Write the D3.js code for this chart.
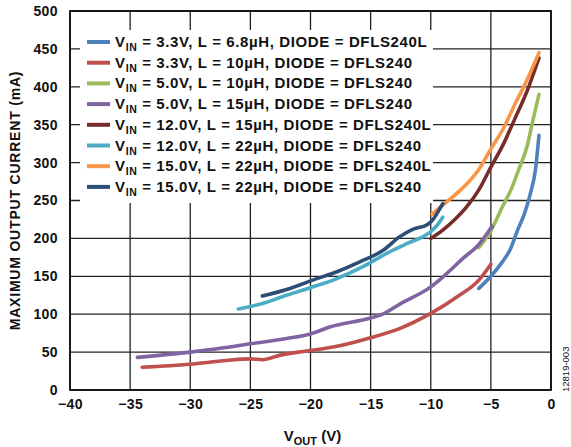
<!DOCTYPE html>
<html><head><meta charset="utf-8">
<script src="https://cdn.jsdelivr.net/npm/d3@7"></script>
<style>body{margin:0;background:#fff}svg{display:block}text{font-family:"Liberation Sans",Arial,sans-serif;font-weight:bold}</style>
</head><body><svg id="c" width="571" height="447"></svg>
<script>
const xTicks = [-40,-35,-30,-25,-20,-15,-10,-5,0];
const yTicks = [0,50,100,150,200,250,300,350,400,450,500];
const labels = [
 ["3.3V","6.8µH","DFLS240L"],["3.3V","10µH","DFLS240"],["5.0V","10µH","DFLS240"],["5.0V","15µH","DFLS240"],
 ["12.0V","15µH","DFLS240L"],["12.0V","22µH","DFLS240"],["15.0V","22µH","DFLS240L"],["15.0V","22µH","DFLS240"]];
const colors = ["#4f81bd","#c0504d","#9bbb59","#8064a2","#772c2a","#4bacc6","#f79646","#2c4d75"];
const s1 = [[-6,134],[-5,150],[-4,170],[-3.4,185],[-2.8,210],[-2.2,233],[-1.7,260],[-1.3,290],[-1,336]];
const s2 = [[-34,30],[-30,34],[-27,39],[-25,41],[-24,40],[-22.5,46],[-21,50],[-20,52],[-18,57],[-15,69],[-12.6,81],[-10,101],[-7.8,123],[-6,145],[-5,166]];
const s3 = [[-6,188],[-5,210],[-4,243],[-3.3,265],[-2.7,290],[-2,321],[-1.5,356],[-1,390]];
const s4 = [[-34.4,43],[-30,50],[-27.5,55],[-25,61],[-22,68],[-20,74],[-18.4,83],[-15,95],[-14,100],[-12.5,114],[-10,136],[-9,149],[-7.3,174],[-6,192],[-4.9,216]];
const s5 = [[-10,200],[-9,211],[-8,225],[-7,242],[-6,264],[-5,294],[-4,323],[-3,358],[-2,394],[-1,438]];
const s6 = [[-26,107],[-24,114],[-22,125],[-20,135],[-17.8,147],[-15.6,163],[-13.7,180],[-12,193],[-10,209],[-9.6,215],[-9,228]];
const s7 = [[-9.9,232],[-9,244],[-8,257],[-7,272],[-6,291],[-5,318],[-4,344],[-3,377],[-2,409],[-1,445]];
const s8 = [[-24,124],[-21.7,134],[-19.8,145],[-17.8,156],[-15.9,169],[-13.9,185],[-12.6,202],[-11.5,212],[-10.3,218],[-9.8,225],[-9.4,235],[-9,246]];
const series = [s1,s2,s3,s4,s5,s6,s7,s8];

const svg = d3.select("#c");
const L=70,R=551,T=11,B=390;
const x = d3.scaleLinear().domain([-40,0]).range([L,R]);
const y = d3.scaleLinear().domain([0,500]).range([B,T]);

// grid
const g = svg.append("g");
g.selectAll(".vx").data(xTicks).join("line").attr("x1",d=>x(d)).attr("x2",d=>x(d)).attr("y1",T).attr("y2",B).attr("stroke","#222").attr("stroke-width",1.3);
g.selectAll(".hy").data(yTicks).join("line").attr("x1",L).attr("x2",R).attr("y1",d=>y(d)).attr("y2",d=>y(d)).attr("stroke","#222").attr("stroke-width",1.3);

// legend background
svg.append("rect").attr("x",80).attr("y",30).attr("width",353).attr("height",173).attr("fill","#fff");

// frame
svg.append("rect").attr("x",L).attr("y",T).attr("width",R-L).attr("height",B-T).attr("fill","none").attr("stroke","#111").attr("stroke-width",1.8);

// axes labels
const xa = svg.append("g").attr("transform",`translate(0,${B})`).call(d3.axisBottom(x).tickValues(xTicks).tickSize(0).tickPadding(9).tickFormat(d=>d<0?"\u2212"+(-d):d));
xa.select(".domain").remove();
xa.selectAll("text").attr("font-size",14).attr("letter-spacing",0.4).attr("fill","#111").attr("font-family","Liberation Sans, Arial").attr("font-weight","bold");
const ya = svg.append("g").attr("transform",`translate(${L},0)`).call(d3.axisLeft(y).tickValues(yTicks).tickSize(0).tickPadding(12));
ya.select(".domain").remove();
ya.selectAll("text").attr("font-size",14).attr("letter-spacing",0.4).attr("fill","#111").attr("font-family","Liberation Sans, Arial").attr("font-weight","bold");

// lines
const line = d3.line().x(d=>x(d[0])).y(d=>y(d[1])).curve(d3.curveMonotoneX);
svg.selectAll(".ser").data(series).join("path").attr("d",line).attr("fill","none")
  .attr("stroke",(d,i)=>colors[i]).attr("stroke-width",3.6).attr("stroke-linecap","round");

// legend
const lg = svg.append("g");
labels.forEach((lb,i)=>{
  const yy = 42 + i*20.7;
  lg.append("line").attr("x1",87).attr("x2",110).attr("y1",yy).attr("y2",yy).attr("stroke",colors[i]).attr("stroke-width",4);
  const t = lg.append("text").attr("x",115).attr("y",yy+5).attr("font-size",15).attr("letter-spacing",0.62).attr("fill","#111");
  t.append("tspan").text("V");
  t.append("tspan").text("IN").attr("font-size",10.5).attr("dy",4);
  t.append("tspan").text(` = ${lb[0]}, L = ${lb[1]}, DIODE = ${lb[2]}`).attr("dy",-4);
});

// axis titles
svg.append("text").attr("transform",`translate(20,${(T+B)/2}) rotate(-90)`).attr("text-anchor","middle").attr("font-size",14).attr("letter-spacing",0.8).attr("fill","#111")
  .text("MAXIMUM OUTPUT CURRENT (mA)");
const xt = svg.append("text").attr("x",(L+R)/2 + 2).attr("y",441).attr("text-anchor","middle").attr("font-size",15).attr("fill","#111");
xt.append("tspan").text("V");
xt.append("tspan").text("OUT").attr("font-size",11).attr("dy",4);
xt.append("tspan").text(" (V)").attr("dy",-4);

svg.append("text").attr("transform","translate(569,392) rotate(-90)").attr("font-size",9.5).style("font-weight","normal").attr("fill","#111").text("12819-003");
</script></body></html>
